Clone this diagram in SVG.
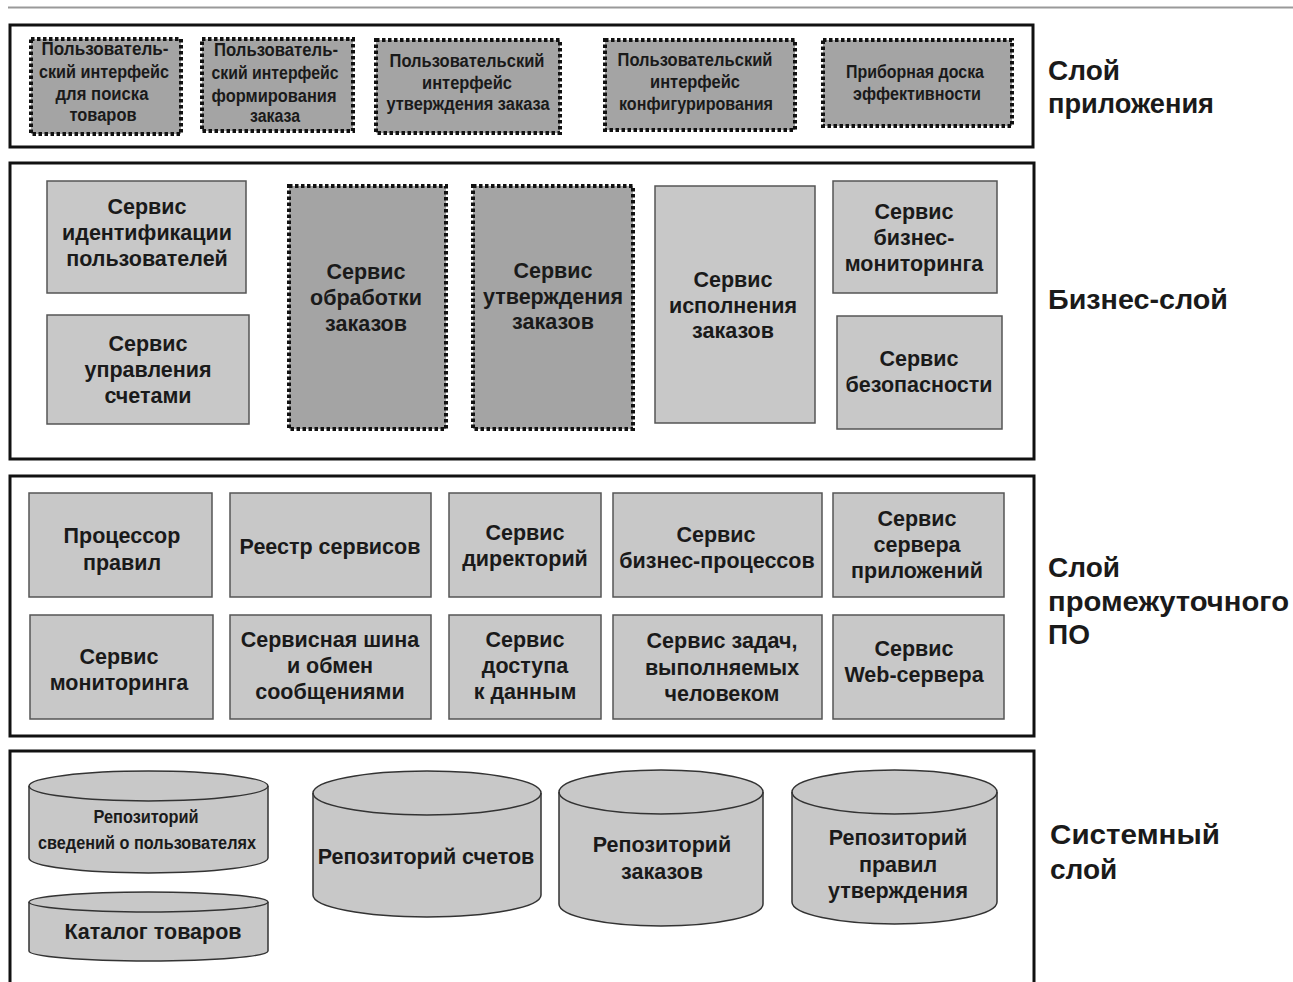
<svg xmlns="http://www.w3.org/2000/svg" width="1293" height="982" viewBox="0 0 1293 982">
<style>
.layer{fill:#fff;stroke:#111;stroke-width:3}
.lt{fill:#c8c8c8;stroke:#555;stroke-width:1.5}
.dk{fill:#a4a4a4;stroke:#111;stroke-width:4;stroke-dasharray:3.5 2.5}
.cyl{fill:#c8c8c8;stroke:#333;stroke-width:1.5}
text{font-family:"Liberation Sans",Arial,sans-serif;font-weight:bold;fill:#1a1a1a;text-anchor:middle}
.t20{font-size:21.5px}
.tn{font-size:18px}
.lbl{font-size:28px;text-anchor:start}
</style>
<rect width="1293" height="982" fill="#fff"/>
<line x1="8" y1="7.5" x2="1293" y2="7.5" stroke="#999" stroke-width="2"/>

<g id="layers">
<rect class="layer" x="10" y="25" width="1023" height="122"/>
<rect class="layer" x="10" y="163" width="1024" height="296"/>
<rect class="layer" x="10" y="476" width="1024" height="260"/>
<path d="M10 990 V751 H1034 V990" fill="none" stroke="#111" stroke-width="3"/>
</g>

<g id="layer-labels">
<text class="lbl" x="1048" y="80">Слой</text>
<text class="lbl" x="1048" y="113" textLength="166" lengthAdjust="spacingAndGlyphs">приложения</text>
<text class="lbl" x="1048" y="309" textLength="180" lengthAdjust="spacingAndGlyphs">Бизнес-слой</text>
<text class="lbl" x="1048" y="577">Слой</text>
<text class="lbl" x="1048" y="611" textLength="241" lengthAdjust="spacingAndGlyphs">промежуточного</text>
<text class="lbl" x="1048" y="644">ПО</text>
<text class="lbl" x="1050" y="844" textLength="170" lengthAdjust="spacingAndGlyphs">Системный</text>
<text class="lbl" x="1050" y="879">слой</text>
</g>

<g id="ui-search">
<rect class="dk" x="31" y="39" width="150" height="95"/>
<text class="tn" x="105" y="55" textLength="127" lengthAdjust="spacingAndGlyphs">Пользователь-</text>
<text class="tn" x="104" y="78" textLength="130" lengthAdjust="spacingAndGlyphs">ский интерфейс</text>
<text class="tn" x="102" y="100" textLength="93" lengthAdjust="spacingAndGlyphs">для поиска</text>
<text class="tn" x="103" y="121" textLength="67" lengthAdjust="spacingAndGlyphs">товаров</text>
</g>
<g id="ui-order">
<rect class="dk" x="202" y="39" width="151" height="92"/>
<text class="tn" x="276" y="56" textLength="124" lengthAdjust="spacingAndGlyphs">Пользователь-</text>
<text class="tn" x="275" y="79" textLength="127" lengthAdjust="spacingAndGlyphs">ский интерфейс</text>
<text class="tn" x="274" y="102" textLength="125" lengthAdjust="spacingAndGlyphs">формирования</text>
<text class="tn" x="275" y="122" textLength="50" lengthAdjust="spacingAndGlyphs">заказа</text>
</g>
<g id="ui-approve">
<rect class="dk" x="376" y="40" width="184" height="93"/>
<text class="tn" x="467" y="67" textLength="155" lengthAdjust="spacingAndGlyphs">Пользовательский</text>
<text class="tn" x="467" y="89" textLength="90" lengthAdjust="spacingAndGlyphs">интерфейс</text>
<text class="tn" x="468" y="110" textLength="163" lengthAdjust="spacingAndGlyphs">утверждения заказа</text>
</g>
<g id="ui-config">
<rect class="dk" x="605" y="40" width="190" height="90"/>
<text class="tn" x="695" y="66" textLength="155" lengthAdjust="spacingAndGlyphs">Пользовательский</text>
<text class="tn" x="695" y="88" textLength="90" lengthAdjust="spacingAndGlyphs">интерфейс</text>
<text class="tn" x="696" y="110" textLength="154" lengthAdjust="spacingAndGlyphs">конфигурирования</text>
</g>
<g id="ui-dashboard">
<rect class="dk" x="823" y="40" width="189" height="86"/>
<text class="tn" x="915" y="78" textLength="138" lengthAdjust="spacingAndGlyphs">Приборная доска</text>
<text class="tn" x="917" y="100" textLength="128" lengthAdjust="spacingAndGlyphs">эффективности</text>
</g>

<g id="svc-identity">
<rect class="lt" x="47" y="181" width="199" height="112"/>
<text class="t20" x="147" y="214">Сервис</text>
<text class="t20" x="147" y="240">идентификации</text>
<text class="t20" x="147" y="266">пользователей</text>
</g>
<g id="svc-accounts">
<rect class="lt" x="47" y="315" width="202" height="109"/>
<text class="t20" x="148" y="351">Сервис</text>
<text class="t20" x="148" y="377">управления</text>
<text class="t20" x="148" y="403">счетами</text>
</g>
<g id="svc-order-processing">
<rect class="dk" x="289" y="186" width="157" height="243"/>
<text class="t20" x="366" y="279">Сервис</text>
<text class="t20" x="366" y="305">обработки</text>
<text class="t20" x="366" y="331">заказов</text>
</g>
<g id="svc-order-approval">
<rect class="dk" x="473" y="186" width="160" height="243"/>
<text class="t20" x="553" y="278">Сервис</text>
<text class="t20" x="553" y="304">утверждения</text>
<text class="t20" x="553" y="329">заказов</text>
</g>
<g id="svc-fulfillment">
<rect class="lt" x="655" y="186" width="160" height="237"/>
<text class="t20" x="733" y="287">Сервис</text>
<text class="t20" x="733" y="313">исполнения</text>
<text class="t20" x="733" y="338">заказов</text>
</g>
<g id="svc-bam">
<rect class="lt" x="833" y="181" width="164" height="112"/>
<text class="t20" x="914" y="219">Сервис</text>
<text class="t20" x="914" y="245">бизнес-</text>
<text class="t20" x="914" y="271">мониторинга</text>
</g>
<g id="svc-security">
<rect class="lt" x="837" y="316" width="165" height="113"/>
<text class="t20" x="919" y="366">Сервис</text>
<text class="t20" x="919" y="392">безопасности</text>
</g>

<g id="mw-rules">
<rect class="lt" x="29" y="493" width="183" height="104"/>
<text class="t20" x="122" y="543">Процессор</text>
<text class="t20" x="122" y="570">правил</text>
</g>
<g id="mw-registry">
<rect class="lt" x="230" y="493" width="201" height="104"/>
<text class="t20" x="330" y="554">Реестр сервисов</text>
</g>
<g id="mw-directory">
<rect class="lt" x="449" y="493" width="152" height="104"/>
<text class="t20" x="525" y="540">Сервис</text>
<text class="t20" x="525" y="566">директорий</text>
</g>
<g id="mw-bpm">
<rect class="lt" x="613" y="493" width="209" height="104"/>
<text class="t20" x="716" y="542">Сервис</text>
<text class="t20" x="717" y="568">бизнес-процессов</text>
</g>
<g id="mw-appserver">
<rect class="lt" x="833" y="493" width="171" height="104"/>
<text class="t20" x="917" y="526">Сервис</text>
<text class="t20" x="917" y="552">сервера</text>
<text class="t20" x="917" y="578">приложений</text>
</g>
<g id="mw-monitoring">
<rect class="lt" x="30" y="615" width="183" height="104"/>
<text class="t20" x="119" y="664">Сервис</text>
<text class="t20" x="119" y="690">мониторинга</text>
</g>
<g id="mw-esb">
<rect class="lt" x="230" y="615" width="201" height="104"/>
<text class="t20" x="330" y="647">Сервисная шина</text>
<text class="t20" x="330" y="673">и обмен</text>
<text class="t20" x="330" y="699">сообщениями</text>
</g>
<g id="mw-data-access">
<rect class="lt" x="449" y="615" width="152" height="104"/>
<text class="t20" x="525" y="647">Сервис</text>
<text class="t20" x="525" y="673">доступа</text>
<text class="t20" x="525" y="699">к данным</text>
</g>
<g id="mw-human-tasks">
<rect class="lt" x="613" y="615" width="209" height="104"/>
<text class="t20" x="722" y="648">Сервис задач,</text>
<text class="t20" x="722" y="675">выполняемых</text>
<text class="t20" x="722" y="701">человеком</text>
</g>
<g id="mw-webserver">
<rect class="lt" x="833" y="615" width="171" height="104"/>
<text class="t20" x="914" y="656">Сервис</text>
<text class="t20" x="914" y="682">Web-сервера</text>
</g>

<g id="repo-users">
<path class="cyl" d="M29 786 V858 A119.5 15 0 0 0 268 858 V786 A119.5 15 0 0 0 29 786 Z"/>
<path d="M29 786 A119.5 15 0 0 0 268 786" fill="none" stroke="#333" stroke-width="1.5"/>
<text class="tn" x="146" y="823" textLength="105" lengthAdjust="spacingAndGlyphs">Репозиторий</text>
<text class="tn" x="147" y="849" textLength="218" lengthAdjust="spacingAndGlyphs">сведений о пользователях</text>
</g>
<g id="catalog">
<path class="cyl" d="M29 902 V951 A119.5 10 0 0 0 268 951 V902 A119.5 10 0 0 0 29 902 Z"/>
<path d="M29 902 A119.5 10 0 0 0 268 902" fill="none" stroke="#333" stroke-width="1.5"/>
<text class="t20" x="153" y="939">Каталог товаров</text>
</g>
<g id="repo-accounts">
<path class="cyl" d="M313 793 V895 A114 22 0 0 0 541 895 V793 A114 22 0 0 0 313 793 Z"/>
<path d="M313 793 A114 22 0 0 0 541 793" fill="none" stroke="#333" stroke-width="1.5"/>
<text class="t20" x="426" y="864">Репозиторий счетов</text>
</g>
<g id="repo-orders">
<path class="cyl" d="M559 792 V904 A102 22 0 0 0 763 904 V792 A102 22 0 0 0 559 792 Z"/>
<path d="M559 792 A102 22 0 0 0 763 792" fill="none" stroke="#333" stroke-width="1.5"/>
<text class="t20" x="662" y="852">Репозиторий</text>
<text class="t20" x="662" y="879">заказов</text>
</g>
<g id="repo-rules">
<path class="cyl" d="M792 792 V902 A102.5 22 0 0 0 997 902 V792 A102.5 22 0 0 0 792 792 Z"/>
<path d="M792 792 A102.5 22 0 0 0 997 792" fill="none" stroke="#333" stroke-width="1.5"/>
<text class="t20" x="898" y="845">Репозиторий</text>
<text class="t20" x="898" y="872">правил</text>
<text class="t20" x="898" y="898">утверждения</text>
</g>

<g id="connectors"></g>
</svg>
